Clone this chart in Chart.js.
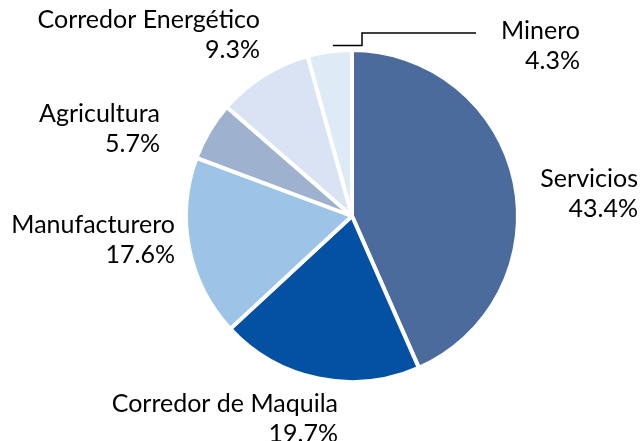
<!DOCTYPE html>
<html>
<head>
<meta charset="utf-8">
<script src="https://cdn.jsdelivr.net/npm/chart.js@4/dist/chart.umd.min.js"></script>
<style>
    html, body { margin: 0; padding: 0; background: #fff; }
    #wrap { width: 644px; height: 441px; }
</style>
</head>
<body>
<div id="wrap"><canvas id="sectorChart" width="644" height="441"></canvas></div>
<script>
const sectors = ["Servicios", "Corredor de Maquila", "Manufacturero", "Agricultura", "Corredor Energético", "Minero"];
const shares = [43.4, 19.7, 17.6, 5.7, 9.3, 4.3];
const sliceColors = ["#4a6b9b", "#0450a2", "#9dc3e6", "#9eb1cf", "#dae3f3", "#deebf7"];

// label anchors: right edge / first baseline, offset from the pie centre (px)
const labelOffsets = [
    [286, -29],
    [-14, 196],
    [-177, 17],
    [-192, -94],
    [-92, -188],
    [228, -177]
];

// OUTSIDE LABELS + LEADER LINE
const sliceLabels = {
    id: "sliceLabels",
    afterDatasetsDraw(chart) {
        const ctx = chart.ctx;
        const arcs = chart.getDatasetMeta(0).data;
        const cx = arcs[0].x;
        const cy = arcs[0].y;

        ctx.save();
        ctx.fillStyle = "#000";
        ctx.font = "25px Lato";
        ctx.textAlign = "right";
        ctx.textBaseline = "alphabetic";

        arcs.forEach((arc, i) => {
            const x = cx + labelOffsets[i][0];
            const y = cy + labelOffsets[i][1];
            ctx.fillText(sectors[i], x, y);
            ctx.fillText(shares[i].toFixed(1) + "%", x, y + 30);
        });

        // leader line for the small "Minero" slice
        const m = arcs[5];
        const mid = (m.startAngle + m.endAngle) / 2;
        const sx = cx + Math.cos(mid) * (m.outerRadius + 6) + 4;
        const sy = cy + Math.sin(mid) * (m.outerRadius + 6);
        const topY = cy + labelOffsets[5][1] - 6;
        ctx.strokeStyle = "#000";
        ctx.lineWidth = 1.5;
        ctx.beginPath();
        ctx.moveTo(sx, sy);
        ctx.lineTo(cx + 10, sy);
        ctx.lineTo(cx + 10, topY);
        ctx.lineTo(cx + labelOffsets[5][0] - 104, topY);
        ctx.stroke();
        ctx.restore();
    }
};

const ctx = document.getElementById("sectorChart").getContext("2d");

new Chart(ctx, {
    type: "pie",

    data: {
        labels: sectors,
        datasets: [{
            data: shares,
            backgroundColor: sliceColors,
            borderColor: "#ffffff",
            borderWidth: 4
        }]
    },

    options: {
        responsive: false,
        animation: false,
        radius: 166,
        layout: {
            padding: { left: 100, right: 40, top: 20, bottom: 29 }
        },
        plugins: {
            legend: { display: false },
            tooltip: { enabled: false }
        }
    },

    plugins: [sliceLabels]
});
</script>
</body>
</html>
